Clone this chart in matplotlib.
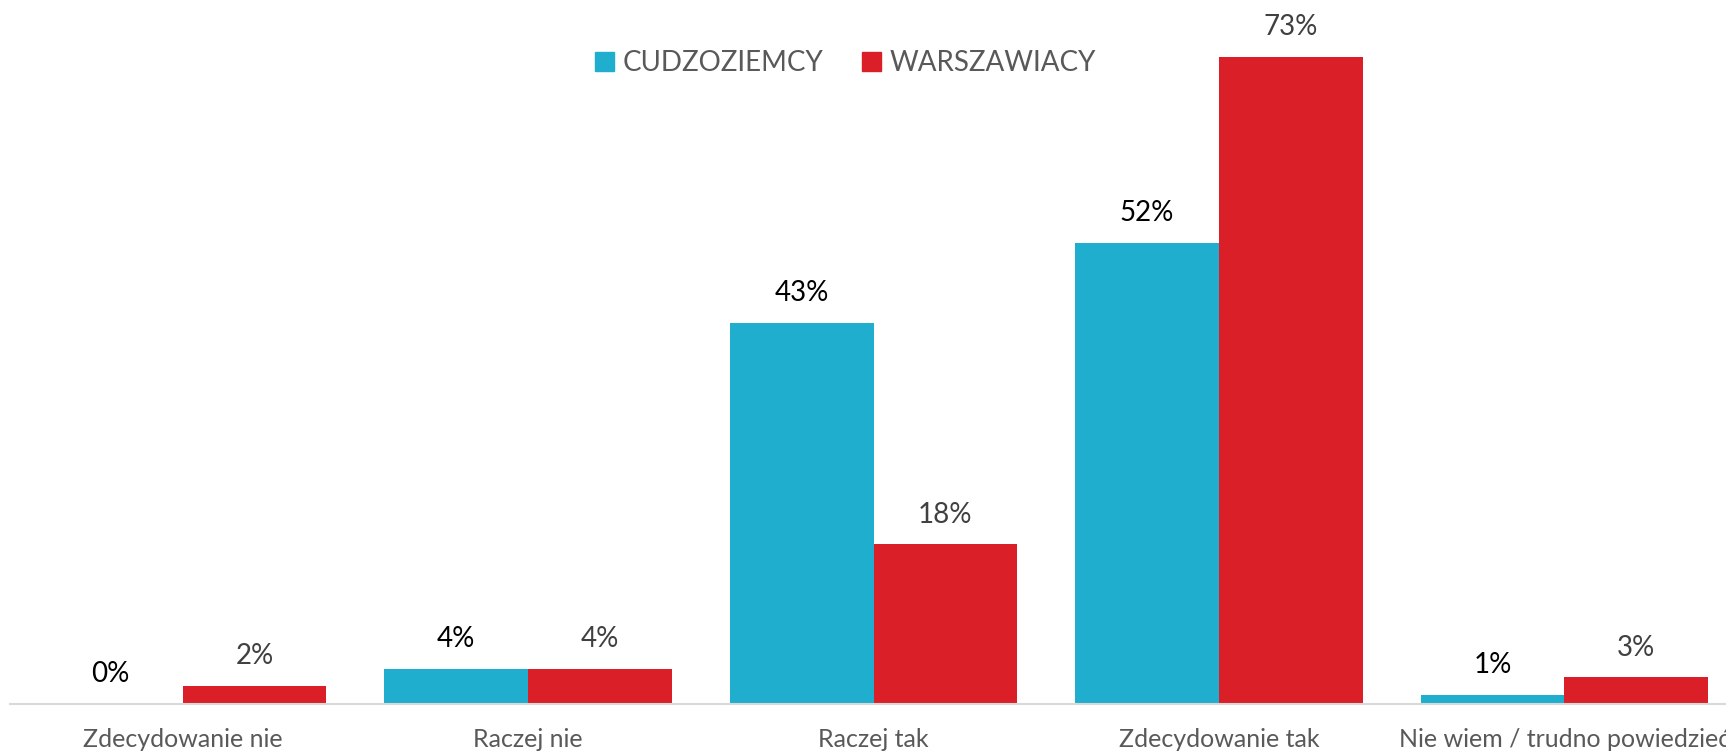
import matplotlib
matplotlib.use("Agg")
import matplotlib.pyplot as plt
from matplotlib.patches import Patch
import numpy as np

plt.rcParams['font.family'] = ['Lato', 'DejaVu Sans']

categories = ["Zdecydowanie nie", "Raczej nie", "Raczej tak", "Zdecydowanie tak",
              "Nie wiem / trudno powiedzieć"]
series_names = ["CUDZOZIEMCY", "WARSZAWIACY"]
cudzoziemcy = [0, 4, 43, 52, 1]
warszawiacy = [2, 4, 18, 73, 3]

blue = "#1FAECE"
red = "#DA1F28"

W, H, DPI = 1726, 752, 100
fig = plt.figure(figsize=(W / DPI, H / DPI), dpi=DPI)
ax = fig.add_axes([10 / W, 48 / H, 1727 / W, 704 / H])

x = np.arange(len(categories))
bw = 0.4163
b1 = ax.bar(x - bw / 2, cudzoziemcy, bw, color=blue, zorder=2)
b2 = ax.bar(x + bw / 2, warszawiacy, bw, color=red, zorder=2)

for rects, vals, col in ((b1, cudzoziemcy, "#000000"), (b2, warszawiacy, "#404040")):
    for r, v in zip(rects, vals):
        ax.annotate(f"{v}%", (r.get_x() + r.get_width() / 2, v),
                    xytext=(0, 21.5), textcoords="offset points",
                    ha="center", va="center", fontsize=20, color=col)

ax.set_xlim(-0.5, len(categories) - 0.5)
ax.set_ylim(0, 79.4)
ax.set_yticks([])
ax.set_xticks(x)
ax.set_xticklabels(categories, fontsize=18, color="#595959")
ax.tick_params(axis="x", length=0, pad=17)
for s in ("top", "right", "left"):
    ax.spines[s].set_visible(False)
ax.spines["bottom"].set_color("#D9D9D9")
ax.spines["bottom"].set_linewidth(1.5)
ax.spines["bottom"].set_zorder(3)

handles = [Patch(color=blue), Patch(color=red)]
fig.legend(handles, series_names, loc="center", bbox_to_anchor=(0.490, 1 - 63 / H),
           ncol=2, frameon=False, fontsize=20, labelcolor="#595959",
           handlelength=0.68, handleheight=0.68, handletextpad=0.3,
           columnspacing=1.4)

fig.savefig("out.png", dpi=DPI)
